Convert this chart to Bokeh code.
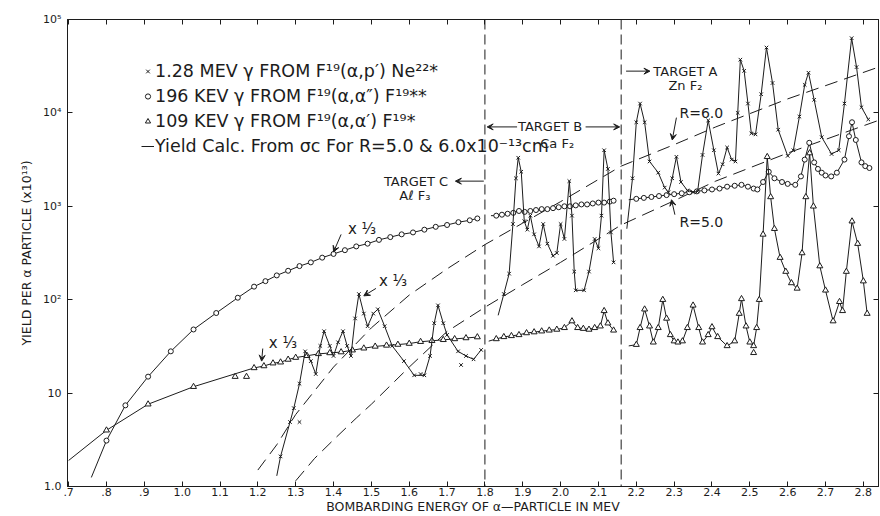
from bokeh.plotting import figure
from bokeh.models import (FixedTicker, Span, Label, Arrow, VeeHead, Legend, LegendItem,
                          LinearAxis, LogAxis, Range1d)
from bokeh.embed import file_html
from bokeh.resources import INLINE

FONT = "DejaVu Sans"
INK = "#1c1c1c"

# ---------------- data ----------------
# 196 keV gamma (circles), per target
circ_c_e = [0.76, 0.80, 0.85, 0.91, 0.97, 1.03, 1.09, 1.147, 1.19, 1.22, 1.25, 1.28, 1.31, 1.34, 1.37,
            1.40, 1.43, 1.46, 1.49, 1.52, 1.55, 1.58, 1.61, 1.64, 1.67, 1.70, 1.73, 1.76, 1.78]
circ_c_y = [1.25, 3.1, 7.4, 15, 28, 48, 72, 105, 138, 158, 182, 204, 229, 251, 282,
            309, 339, 372, 398, 437, 468, 501, 525, 562, 603, 631, 676, 708, 741]
circ_b_e = [1.816, 1.83, 1.845, 1.86, 1.875, 1.89, 1.905, 1.92, 1.935, 1.95, 1.965, 1.98, 1.995,
            2.01, 2.025, 2.04, 2.055, 2.07, 2.085, 2.10, 2.115, 2.13, 2.14]
circ_b_y = [794, 794, 813, 832, 851, 891, 871, 891, 912, 933, 933, 955, 977,
            1000, 1000, 1023, 1047, 1047, 1072, 1096, 1096, 1122, 1148]
circ_a_e = [2.18, 2.20, 2.22, 2.24, 2.26, 2.28, 2.30, 2.32, 2.34, 2.36, 2.38, 2.40, 2.42, 2.44, 2.46,
            2.478, 2.495, 2.51, 2.52, 2.535, 2.55, 2.565, 2.585, 2.60, 2.62, 2.635, 2.645, 2.657,
            2.67, 2.68, 2.69, 2.70, 2.715, 2.73, 2.75, 2.762, 2.77, 2.78, 2.795, 2.805, 2.816]
circ_a_y = [1175, 1202, 1230, 1259, 1288, 1318, 1349, 1380, 1413, 1445, 1479, 1514, 1549, 1622, 1660,
            1698, 1622, 1549, 1514, 1820, 2344, 1995, 1820, 1738, 1698, 2089, 3162, 4786,
            2951, 2512, 2291, 2138, 2089, 2291, 3162, 5623, 7943, 5129, 2951, 2692, 2570]

# 109 keV gamma (triangles)
tri_c_e = [0.70, 0.80, 0.91, 1.03, 1.19, 1.216, 1.24, 1.26, 1.28, 1.30, 1.33, 1.36, 1.39, 1.42, 1.45,
           1.48, 1.51, 1.54, 1.57, 1.60, 1.63, 1.66, 1.69, 1.72, 1.75, 1.78]
tri_c_y = [1.9, 4.0, 7.6, 11.7, 18.6, 19.5, 20.9, 21.4, 22.9, 24, 25.1, 26.3, 26.9, 27.5, 28.8,
           30.2, 31.6, 32.4, 33.1, 33.9, 35.5, 36.3, 37.2, 38, 38.9, 39.8]
tri_b_e = [1.81, 1.83, 1.85, 1.87, 1.89, 1.91, 1.93, 1.95, 1.97, 1.99, 2.01, 2.03, 2.045, 2.06,
           2.075, 2.09, 2.105, 2.115, 2.125, 2.14]
tri_b_y = [36, 38, 40, 41, 42, 44, 45, 46, 47, 48, 50, 59, 50, 49, 48, 50, 52, 76, 56, 47]
tri_a_e = [2.18, 2.20, 2.21, 2.222, 2.235, 2.245, 2.258, 2.27, 2.28, 2.29, 2.30, 2.31, 2.322, 2.335,
           2.35, 2.365, 2.375, 2.39, 2.40, 2.415, 2.44, 2.46, 2.472, 2.478, 2.49, 2.50, 2.51, 2.518,
           2.525, 2.535, 2.546, 2.555, 2.565, 2.58, 2.595, 2.61, 2.625, 2.638, 2.648, 2.658, 2.668,
           2.685, 2.70, 2.72, 2.737, 2.745, 2.755, 2.77, 2.785, 2.80, 2.81]
tri_a_y = [32, 33, 50, 79, 52, 35, 50, 100, 63, 42, 36, 35, 36, 50,
           87, 50, 35, 42, 51, 40, 32, 36, 71, 102, 52, 35, 32, 50,
           100, 500, 3388, 1259, 575, 282, 200, 151, 132, 316, 1259, 3715, 1000,
           229, 126, 59, 95, 76, 200, 692, 398, 158, 71]
tri_extra_e = [1.14, 1.17, 2.51]
tri_extra_y = [15, 15, 27]

# 1.28 MeV gamma (crosses)
cross_c_e = [1.25, 1.26, 1.285, 1.295, 1.31, 1.325, 1.34, 1.353, 1.365, 1.375, 1.39, 1.40, 1.412,
             1.425, 1.436, 1.446, 1.457, 1.467, 1.48, 1.49, 1.505, 1.517, 1.535, 1.555, 1.586,
             1.613, 1.64, 1.655, 1.666, 1.676, 1.69, 1.70, 1.729, 1.75, 1.77, 1.79]
cross_c_y = [1.3, 2.1, 4.9, 6.9, 12.6, 28, 22, 16, 32, 46, 32, 25, 35,
             46, 32, 25, 63, 115, 71, 52, 71, 79, 52, 32, 22,
             15.5, 15.5, 25, 56, 87, 56, 42, 28, 25, 23, 29]
cross_b_e = [1.835, 1.85, 1.864, 1.874, 1.882, 1.888, 1.896, 1.904, 1.912, 1.92, 1.93, 1.943, 1.954,
             1.965, 1.98, 1.99, 2.00, 2.01, 2.023, 2.03, 2.036, 2.04, 2.062, 2.075, 2.09, 2.10,
             2.108, 2.115, 2.125, 2.133, 2.14]
cross_b_y = [68, 115, 190, 646, 1995, 3311, 2344, 692, 562, 794, 501, 372, 646,
             398, 295, 316, 646, 447, 1862, 794, 200, 126, 126, 200, 447, 355,
             794, 3981, 2512, 525, 251]
cross_a_e = [2.175, 2.19, 2.20, 2.21, 2.222, 2.235, 2.258, 2.275, 2.285, 2.295, 2.306, 2.318, 2.335,
             2.35, 2.362, 2.375, 2.39, 2.405, 2.417, 2.428, 2.44, 2.452, 2.462, 2.468, 2.475, 2.485,
             2.495, 2.504, 2.515, 2.53, 2.544, 2.56, 2.575, 2.60, 2.615, 2.631, 2.645, 2.655, 2.67,
             2.69, 2.716, 2.735, 2.75, 2.769, 2.782, 2.795, 2.813]
cross_a_y = [575, 1995, 7943, 12589, 7943, 3020, 2291, 1585, 1413, 1995, 3388, 1820, 1479,
             1413, 1445, 3548, 8318, 3981, 2239, 2818, 4266, 3162, 3020, 10000, 37154, 28184,
             12589, 6026, 5888, 15849, 50119, 20893, 6607, 3467, 3981, 9120, 19953, 26915, 13804,
             5495, 3631, 3981, 12589, 63096, 30903, 11482, 8511]
cross_extra_e = [1.31, 1.63, 1.737]
cross_extra_y = [4.9, 16, 20]

# Yield calculated from sigma_c
calc6_e = [1.20, 1.25, 1.30, 1.40, 1.50, 1.60, 1.70, 1.80, 1.90, 2.00, 2.16, 2.30, 2.41, 2.60, 2.84]
calc6_y = [1.5, 2.8, 5.9, 19, 50, 112, 214, 389, 661, 1122, 2692, 4571, 7079, 14125, 30903]
calc5_e = [1.30, 1.35, 1.40, 1.46, 1.50, 1.60, 1.70, 1.80, 1.90, 2.00, 2.16, 2.30, 2.41, 2.60, 2.84]
calc5_y = [1.15, 2.0, 3.16, 5.4, 7.6, 19, 45.7, 83, 145, 251, 631, 1148, 1862, 3715, 8318]

target_bounds = [1.80, 2.16]

x_ticks = [0.7, 0.8, 0.9, 1.0, 1.1, 1.2, 1.3, 1.4, 1.5, 1.6, 1.7, 1.8, 1.9, 2.0, 2.1, 2.2,
           2.3, 2.4, 2.5, 2.6, 2.7, 2.8]
x_tick_labels = [".7", ".8", ".9", "1.0", "1.1", "1.2", "1.3", "1.4", "1.5", "1.6", "1.7", "1.8",
                 "1.9", "2.0", "2.1", "2.2", "2.3", "2.4", "2.5", "2.6", "2.7", "2.8"]
y_ticks = [1, 10, 100, 1000, 10000, 100000]
y_tick_labels = ["1.0", "10", "10²", "10³", "10⁴", "10⁵"]

# ---------------- figure ----------------
p = figure(width=880, height=516, output_backend="svg", toolbar_location=None,
           y_axis_type="log", x_range=Range1d(0.697, 2.840), y_range=Range1d(1.0, 1e5),
           min_border_left=67, min_border_top=19, min_border_right=2, min_border_bottom=27)
p.xgrid.visible = False
p.ygrid.visible = False
p.outline_line_color = INK
p.background_fill_color = "white"
p.border_fill_color = "white"

for ax in (p.xaxis[0], p.yaxis[0]):
    ax.axis_line_color = INK
    ax.major_tick_line_color = INK
    ax.minor_tick_line_color = None
    ax.major_tick_in = 5
    ax.major_tick_out = 0
    ax.major_label_text_font = FONT
    ax.major_label_text_font_size = "11px"
    ax.major_label_text_color = INK
    ax.axis_label_text_font = FONT
    ax.axis_label_text_font_style = "normal"
    ax.axis_label_text_color = INK

p.xaxis.ticker = FixedTicker(ticks=x_ticks)
p.xaxis.major_label_overrides = dict(zip(x_ticks, x_tick_labels))
p.xaxis.major_label_standoff = 1
p.xaxis.axis_label = "BOMBARDING ENERGY OF α—PARTICLE IN MEV"
p.xaxis.axis_label_text_font_size = "12.5px"
p.xaxis.axis_label_standoff = 0

p.yaxis.ticker = FixedTicker(ticks=y_ticks)
p.yaxis.major_label_overrides = dict(zip(y_ticks, y_tick_labels))
p.yaxis.major_label_standoff = 6
p.yaxis.axis_label = "YIELD PER α PARTICLE (x10¹³)"
p.yaxis.axis_label_text_font_size = "12.5px"
p.yaxis.axis_label_standoff = 6

top = LinearAxis(ticker=FixedTicker(ticks=x_ticks), major_label_text_font_size="1px",
                 major_label_text_color=None, major_label_overrides={t: " " for t in x_ticks},
                 major_tick_in=5, major_tick_out=0, major_label_standoff=0,
                 minor_tick_line_color=None, axis_line_color=INK, major_tick_line_color=INK)
p.add_layout(top, "above")
right = LogAxis(ticker=FixedTicker(ticks=y_ticks), major_label_text_font_size="1px",
                major_label_text_color=None, major_label_overrides={t: " " for t in y_ticks},
                major_tick_in=5, major_tick_out=0, major_label_standoff=0,
                minor_tick_line_color=None, axis_line_color=INK, major_tick_line_color=INK)
p.add_layout(right, "right")

for b in target_bounds:
    p.add_layout(Span(location=b, dimension="height", line_color=INK, line_width=1,
                      line_dash="10 5"))

# calculated yields
r_calc = p.line(calc6_e, calc6_y, line_color=INK, line_width=1, line_dash="13 7")
p.line(calc5_e, calc5_y, line_color=INK, line_width=1, line_dash="13 7")


def series(e, y, marker, size):
    # the first point of each hand-drawn curve is where the line starts, with no marker
    p.line(e, y, line_color=INK, line_width=1)
    return p.scatter(e[1:], y[1:], marker=marker, size=size, line_color=INK, fill_color="white",
                     line_width=1)


r_circ = series(circ_c_e, circ_c_y, "circle", 5)
series(circ_b_e, circ_b_y, "circle", 5)
series(circ_a_e, circ_a_y, "circle", 5)
r_tri = series(tri_c_e, tri_c_y, "triangle", 6)
series(tri_b_e, tri_b_y, "triangle", 6)
series(tri_a_e, tri_a_y, "triangle", 6)
p.scatter(tri_extra_e, tri_extra_y, marker="triangle", size=6, line_color=INK, fill_color="white")
r_cross = series(cross_c_e, cross_c_y, "x", 5)
series(cross_b_e, cross_b_y, "x", 5)
series(cross_a_e, cross_a_y, "x", 5)
p.scatter(cross_extra_e, cross_extra_y, marker="x", size=5, line_color=INK)

legend = Legend(items=[
    LegendItem(label="1.28 MEV γ FROM F¹⁹(α,p′) Ne²²*", renderers=[r_cross]),
    LegendItem(label="196 KEV γ FROM F¹⁹(α,α″) F¹⁹**", renderers=[r_circ]),
    LegendItem(label="109 KEV γ FROM F¹⁹(α,α′) F¹⁹*", renderers=[r_tri]),
    LegendItem(label="Yield Calc. From σc For R=5.0 & 6.0x10⁻¹³cm", renderers=[r_calc]),
], location=(74, 329), border_line_color=None, background_fill_alpha=0,
    label_text_font=FONT, label_text_font_size="17.5px", label_text_color=INK,
    glyph_width=13, glyph_height=22, label_height=22, spacing=3, padding=0, margin=0,
    label_standoff=1)
p.add_layout(legend)


def text(x, y, s, size="12px", align="left"):
    p.add_layout(Label(x=x, y=y, text=s, text_font=FONT, text_font_size=size, text_color=INK,
                       text_align=align, text_baseline="middle"))


def arrow(x0, y0, x1, y1):
    p.add_layout(Arrow(x_start=x0, y_start=y0, x_end=x1, y_end=y1, line_color=INK, line_width=1,
                       end=VeeHead(size=6, line_color=INK, fill_color=INK, line_width=1)))


text(2.245, 28000, "TARGET A", size="13px")
text(2.285, 19500, "Zn F₂", size="13px")
arrow(2.173, 28000, 2.236, 28000)
text(1.972, 7080, "TARGET B", align="center", size="13px")
text(1.991, 4680, "Ca F₂", align="center", size="13px")
arrow(1.885, 7080, 1.806, 7080)
arrow(2.066, 7080, 2.156, 7080)
text(1.618, 1860, "TARGET C", align="center", size="13px")
text(1.615, 1290, "Aℓ F₃", align="center", size="13px")
arrow(1.797, 1860, 1.722, 1860)
text(2.314, 10000, "R=6.0", size="14px")
arrow(2.306, 8900, 2.295, 5130)
text(2.314, 676, "R=5.0", size="14px")
arrow(2.302, 813, 2.293, 1175)
text(1.438, 575, "x ⅓", size="15px")
arrow(1.42, 500, 1.40, 324)
text(1.52, 158, "x ⅓", size="15px")
arrow(1.512, 132, 1.48, 110)
text(1.229, 34, "x ⅓", size="15px")
arrow(1.213, 30, 1.21, 22)

open("out.html", "w").write(file_html(p, INLINE))
